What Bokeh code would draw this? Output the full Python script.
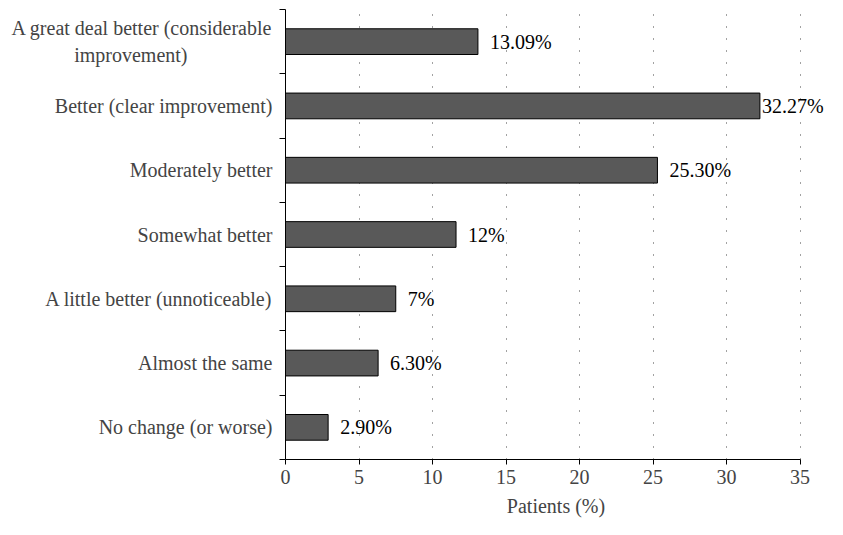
from bokeh.plotting import figure
from bokeh.models import ColumnDataSource, FixedTicker, Range1d, LabelSet
from bokeh.core.properties import value
from bokeh.embed import file_html
from bokeh.resources import INLINE

# Data (top to bottom as shown)
categories = [
    "A great deal better (considerable\nimprovement)" + "\u00a0" * 17,
    "Better (clear improvement)",
    "Moderately better",
    "Somewhat better",
    "A little better (unnoticeable)",
    "Almost the same",
    "No change (or worse)",
]
bar_values = [13.09, 32.27, 25.30, 11.6, 7.5, 6.3, 2.9]
value_labels = ["13.09%", "32.27%", "25.30%", "12%", "7%", "6.30%", "2.90%"]
x_ticks = [0, 5, 10, 15, 20, 25, 30, 35]

FONT = "Liberation Serif"
FS = "20px"
n = len(categories)
ypos = [n - 1 - i + 0.5 for i in range(n)]
offsets = [2 if v == max(bar_values) else 12 for v in bar_values]

src = ColumnDataSource(dict(y=ypos, v=bar_values, lab=value_labels, off=offsets))

p = figure(width=827, height=519, output_backend="svg", toolbar_location=None,
           x_range=Range1d(0, 36.8), y_range=Range1d(0, n),
           min_border_left=285, min_border_right=1, min_border_top=9, min_border_bottom=50)
p.outline_line_color = None

p.hbar(y="y", right="v", left=0, height=0.4, source=src,
       fill_color="#595959", line_color="black", line_width=1)
labels = LabelSet(x="v", y="y", text="lab", source=src, x_offset="off",
                  text_font=value(FONT), text_font_size=FS, text_baseline="middle",
                  text_align="left", text_color="black")
p.add_layout(labels)

# x axis
p.xaxis.ticker = FixedTicker(ticks=x_ticks)
p.xaxis.bounds = (0, 35)
p.xaxis.axis_label = "Patients (%)"
p.xaxis.axis_label_text_font = FONT
p.xaxis.axis_label_text_font_style = "normal"
p.xaxis.axis_label_text_font_size = FS
p.xaxis.axis_label_standoff = 8
p.xaxis.major_label_text_font = FONT
p.xaxis.major_label_text_font_size = FS
p.xaxis.major_label_standoff = 5
p.xaxis.major_tick_out = 5
p.xaxis.major_tick_in = 0
p.xaxis.minor_tick_line_color = None
p.xaxis.axis_line_color = "black"

# y axis
p.yaxis.ticker = FixedTicker(ticks=ypos, minor_ticks=[float(i) for i in range(n + 1)])
p.yaxis.major_label_overrides = {y: c for y, c in zip(ypos, categories)}
p.yaxis.major_label_text_font = FONT
p.yaxis.major_label_text_font_size = FS
p.yaxis.major_tick_line_color = None
p.yaxis.major_tick_out = 8
p.yaxis.minor_tick_out = 6
p.yaxis.minor_tick_in = 0
p.yaxis.minor_tick_line_color = "black"
p.yaxis.axis_line_color = "black"

# grid
p.xgrid.ticker = FixedTicker(ticks=x_ticks[1:])
p.xgrid.grid_line_color = "#444444"
p.xgrid.grid_line_dash = "1 11"
p.ygrid.grid_line_color = None

open("out.html", "w").write(file_html(p, INLINE))
